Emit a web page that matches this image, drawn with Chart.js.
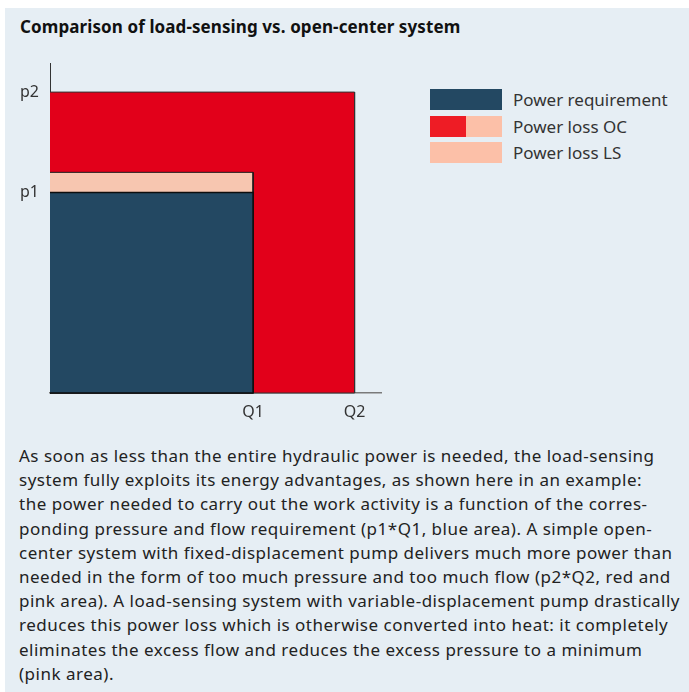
<!DOCTYPE html>
<html>
<head>
<meta charset="utf-8">
<script src="https://cdn.jsdelivr.net/npm/chart.js@4/dist/chart.umd.min.js"></script>
<style>
  html, body { margin: 0; padding: 0; background: #ffffff; }
  body { width: 689px; height: 692px; position: relative; overflow: hidden; font-family: "Noto Sans", Roboto, sans-serif; color: #222; }
  #panel { position: absolute; left: 5px; top: 8px; width: 684px; height: 684px; background: #e6eef4; }
  #title { position: absolute; left: 20px; top: 15px; font-weight: bold; font-size: 17px; line-height: 24px; color: #111; white-space: nowrap; letter-spacing: 0.1px; }
  #chartWrap { position: absolute; left: 0; top: 0; width: 400px; height: 440px; }
  #legend { position: absolute; left: 430px; top: 89px; }
  .item { position: relative; height: 26.5px; }
  .sw { position: absolute; left: 0; top: 0; width: 72px; height: 21px; }
  .lab { position: absolute; left: 83px; top: 0; line-height: 21px; font-size: 17px; color: #333; white-space: nowrap; }
  #text { position: absolute; left: 19px; top: 444px; width: 668px; font-size: 17px; letter-spacing: 0.5px; line-height: 24.2px; color: #222; white-space: nowrap; }
</style>
</head>
<body>
<div id="panel"></div>
<div id="title">Comparison of load-sensing vs. open-center system</div>
<div id="chartWrap"><canvas id="c" width="400" height="440"></canvas></div>
<div id="legend"></div>
<div id="text">As soon as less than the entire hydraulic power is needed, the load-sensing<br>system fully exploits its energy advantages, as shown here in an example:<br>the power needed to carry out the work activity is a function of the corres-<br>ponding pressure and flow requirement (p1*Q1, blue area). A simple open-<br>center system with fixed-displacement pump delivers much more power than<br>needed in the form of too much pressure and too much flow (p2*Q2, red and<br>pink area). A load-sensing system with variable-displacement pump drastically<br>reduces this power loss which is otherwise converted into heat: it completely<br>eliminates the excess flow and reduces the excess pressure to a minimum<br>(pink area).</div>
<script>
// ---- data ----
const flowTickLabels = ['Q1', 'Q2'];
const flowValues = [2, 3];           // Q1, Q2
const pressureTickLabels = ['p1', 'p2'];
const pressureValues = [2, 3];       // p1, p2
const lsPressure = 2.2;              // load-sensing pump pressure (p1 + margin)
const flowAxisMax = 3.26;
const pressureAxisMax = 3.29;
const seriesNames = ['Power requirement', 'Power loss OC', 'Power loss LS'];

const Q1 = flowValues[0], Q2 = flowValues[1];
const p1 = pressureValues[0], p2 = pressureValues[1];

// area top edge (filled down to zero) and outline of each rectangle
function areaTop(q, p) { return [{x: 0, y: p}, {x: q, y: p}]; }
function outline(q, p) { return [{x: 0, y: p}, {x: q, y: p}, {x: q, y: 0}, {x: 0, y: 0}]; }

const colBlue = '#234862';
const colRed = '#e2001a';
const colPink = '#f7c6b0';
const legRed = '#ee1c25';
const legPink = '#fcc0a8';

function areaDs(label, q, p, color, order) {
  return { label, data: areaTop(q, p), fill: 'origin', tension: 0, backgroundColor: color,
    borderWidth: 0, borderColor: 'rgba(0,0,0,0)', pointRadius: 0, order };
}
function edgeDs(label, q, p, color, width, order) {
  return { label: label + ' edge', data: outline(q, p), fill: false, tension: 0,
    borderColor: color, borderWidth: width, pointRadius: 0, order, clip: 4 };
}

new Chart(document.getElementById('c'), {
  type: 'line',
  data: {
    datasets: [
      edgeDs(seriesNames[0], Q1, p1, '#0d0d0d', 1.5, 0),
      areaDs(seriesNames[0], Q1, p1, colBlue, 1),
      edgeDs(seriesNames[2], Q1, lsPressure, '#1a1a1a', 1, 2),
      areaDs(seriesNames[2], Q1, lsPressure, colPink, 3),
      edgeDs(seriesNames[1], Q2, p2, '#333333', 1, 4),
      areaDs(seriesNames[1], Q2, p2, colRed, 5)
    ]
  },
  options: {
    responsive: false,
    animation: false,
    events: [],
    layout: { padding: { top: 63, right: 19, left: 0, bottom: 0 } },
    plugins: { legend: { display: false }, tooltip: { enabled: false } },
    scales: {
      x: {
        type: 'linear', min: 0, max: flowAxisMax,
        grid: { display: false, drawTicks: false },
        border: { display: true, color: '#7a7a7a', width: 1.5 },
        ticks: { padding: 10, color: '#333', font: { family: 'Noto Sans', size: 16 }, autoSkip: false, maxRotation: 0,
          callback: (v, i) => flowTickLabels[i] },
        afterBuildTicks: s => { s.ticks = flowValues.map(v => ({ value: v })); },
        afterFit: s => { s.height = 47; }
      },
      y: {
        type: 'linear', min: 0, max: pressureAxisMax,
        grid: { display: false, drawTicks: false },
        border: { display: true, color: '#333', width: 1 },
        ticks: { padding: 11, color: '#333', font: { family: 'Noto Sans', size: 16 }, autoSkip: false,
          callback: (v, i) => pressureTickLabels[i] },
        afterBuildTicks: s => { s.ticks = pressureValues.map(v => ({ value: v })); },
        afterFit: s => { s.width = 50; }
      }
    }
  }
});

// legend
const legendSwatches = [
  'background:' + colBlue,
  'background:linear-gradient(to right,' + legRed + ' 0,' + legRed + ' 50%,' + legPink + ' 50%,' + legPink + ' 100%)',
  'background:' + legPink
];
const lg = document.getElementById('legend');
seriesNames.forEach((n, i) => {
  const it = document.createElement('div');
  it.className = 'item';
  it.innerHTML = '<div class="sw" style="' + legendSwatches[i] + '"></div><div class="lab"></div>';
  it.querySelector('.lab').textContent = n;
  lg.appendChild(it);
});
</script>
</body>
</html>
